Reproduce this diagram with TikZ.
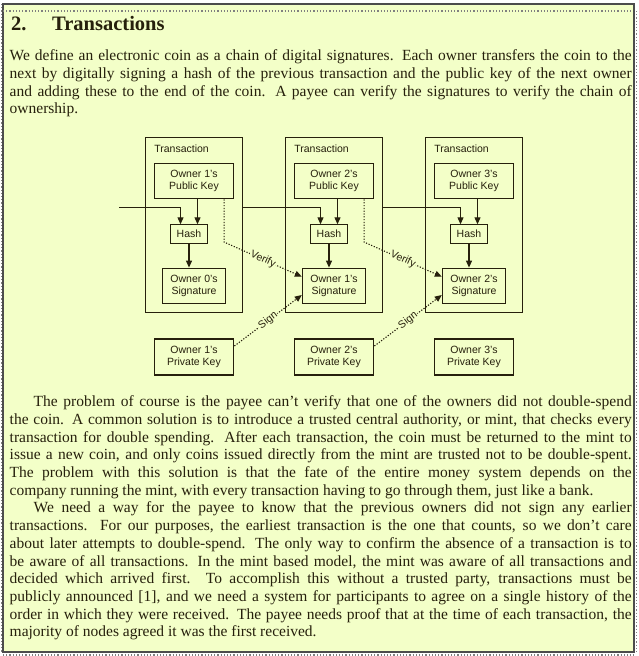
\documentclass[tikz,border=0pt]{standalone}
\usepackage{fontspec}
\setmainfont{Liberation Serif}
\setsansfont{Liberation Sans}
\usetikzlibrary{arrows.meta}

\definecolor{paper}{RGB}{243,255,200}
\definecolor{ink}{RGB}{38,32,12}

\tikzset{
    box/.style={draw=ink, line width=1.1pt, inner sep=0pt, align=center, text=ink,
        font=\sffamily\fontsize{10.5}{12.3}\selectfont},
    link/.style={draw=ink, line width=1.1pt, -{Triangle[length=7pt,width=6pt]}},
    proof/.style={link, dash pattern=on 1.2pt off 1.6pt},
    tag/.style={sloped, fill=paper, inner sep=1pt, text=ink, font=\sffamily\fontsize{10.5}{12}\selectfont},
    txt/.style={inner sep=0pt, text=ink, anchor=base west},
    para/.style={txt, text width=622pt, align=justify, font=\fontsize{15.5}{17.7}\selectfont}
}

\begin{document}
\begin{tikzpicture}[x=1pt, y=-1pt]
    \useasboundingbox (0,0) rectangle (638,656);

    % page
    \fill[paper] (3,4) rectangle (634,652);
    \draw[gray!60!black, line width=1.5pt] (3,4) rectangle (634,652);
    \draw[gray, line width=1.2pt, dotted] (3,11) -- (632,11);
    \draw[gray, line width=1.2pt, dotted] (1.5,4) -- (1.5,652);
    \draw[gray, line width=1.2pt, dotted] (3,655) -- (634,655);
    \draw[gray, line width=1.2pt, dotted] (636.5,11) -- (636.5,652);

    % heading and first paragraph
    \node[txt, font=\bfseries\fontsize{20.5}{24}\selectfont] (secnum) at (11,30.7) {2.};
    \node[txt, font=\bfseries\fontsize{20.5}{24}\selectfont] (sectitle) at (52,30.7) {Transactions};
    \node[para] (intro) at (9.5,60.7) {\hyphenpenalty=10000 \exhyphenpenalty=10000
        We define an electronic coin as a chain of digital signatures.  Each owner transfers the coin to the\linebreak
        next by digitally signing a hash of the previous transaction and the public key of the next owner\linebreak
        and adding these to the end of the coin.  A payee can verify the signatures to verify the chain of\linebreak
        ownership.};

    % transactions
    \foreach \i/\p in {1/0,2/1,3/2} {
        \pgfmathsetmacro\cx{194+140*(\i-1)}
        \node[box, minimum width=96.5pt, minimum height=175.4pt] (tx\i) at (\cx,225) {};
        \node[box, draw=none, anchor=base west] (lbl\i) at ([shift={(8.6pt,-15.4pt)}]tx\i.north west) {Transaction};
        \node[box, minimum width=79.7pt, minimum height=35.7pt] (pub\i) at (\cx,181) {Owner \i's\\Public Key};
        \node[box, minimum width=36.3pt, minimum height=18.3pt] (hash\i) at (\cx-5,234) {Hash};
        \node[box, minimum width=63.3pt, minimum height=35.7pt] (sig\i) at (\cx,286) {Owner \p's\\Signature};
        \node[box, minimum width=79.7pt, minimum height=36pt] (priv\i) at (\cx,357) {Owner \i's\\Private Key};
        \coordinate (hl\i) at ([xshift=-8.5pt]hash\i.north);
        \coordinate (hr\i) at ([xshift=8.5pt]hash\i.north);
        \draw[link] (hr\i |- pub\i.south) -- (hr\i);
        \draw[link] (hash\i) -- (hash\i |- sig\i.north);
    }

    % hash chain
    \coordinate (chainin) at (119.3,207.7);
    \draw[link] (chainin) -| (hl1);
    \draw[link] (tx1.east |- chainin) -| (hl2);
    \draw[link] (tx2.east |- chainin) -| (hl3);

    % verify and sign
    \foreach \i/\n in {1/2,2/3} {
        \coordinate (vfrom\i) at ([xshift=30.1pt]pub\i.south);
        \draw[proof] (vfrom\i) -- ++(0,42.7) -- node[tag] {Verify} ([yshift=9.3pt]sig\n.west);
        \draw[proof] ([yshift=11pt]priv\i.east) -- node[tag] {Sign} ([yshift=-9pt]sig\n.west);
    }

    % second and third paragraph
    \node[para] (body) at (9.5,406.7) {\hyphenpenalty=10000 \exhyphenpenalty=10000
        \hspace*{24pt}The problem of course is the payee can't verify that one of the owners did not double-spend\linebreak
        the coin.  A common solution is to introduce a trusted central authority, or mint, that checks every\linebreak
        transaction for double spending.  After each transaction, the coin must be returned to the mint to\linebreak
        issue a new coin, and only coins issued directly from the mint are trusted not to be double-spent.\linebreak
        The problem with this solution is that the fate of the entire money system depends on the\linebreak
        company running the mint, with every transaction having to go through them, just like a bank.\par
        \hspace*{24pt}We need a way for the payee to know that the previous owners did not sign any earlier\linebreak
        transactions.  For our purposes, the earliest transaction is the one that counts, so we don't care\linebreak
        about later attempts to double-spend.  The only way to confirm the absence of a transaction is to\linebreak
        be aware of all transactions.  In the mint based model, the mint was aware of all transactions and\linebreak
        decided which arrived first.  To accomplish this without a trusted party, transactions must be\linebreak
        publicly announced [1], and we need a system for participants to agree on a single history of the\linebreak
        order in which they were received.  The payee needs proof that at the time of each transaction, the\linebreak
        majority of nodes agreed it was the first received.};
\end{tikzpicture}
\end{document}
